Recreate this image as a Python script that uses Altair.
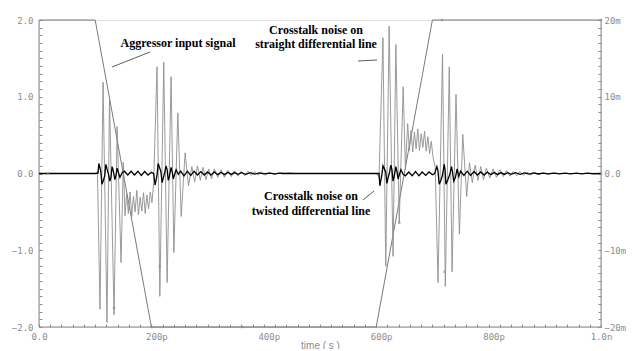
import altair as alt
import pandas as pd

# ---------------- data (time in ps) ----------------
agg_t = [0, 100, 200, 600, 700, 1000]
agg_v = [2.0, 2.0, -2.0, -2.0, 2.0, 2.0]

straight_t = [0, 100, 104, 108.5, 114, 121, 125.5, 133.5, 139, 146, 150,
              153, 156, 159, 162, 165, 168, 171, 174, 177, 180, 183, 186, 189, 192, 195, 198, 201, 204,
              210, 215, 222, 228, 235, 240, 247, 253, 260, 266, 272,
              277, 282, 287, 292, 297, 302, 307, 312, 318, 324, 330, 336, 342, 348, 354, 360, 366, 372,
              378, 384, 390, 396, 403, 410, 418, 426, 434, 444, 455, 600,
              605, 612, 617, 623, 630, 635, 641, 648, 652,
              656, 659, 662, 665, 668, 671, 674, 677, 680, 683, 686, 689, 692, 695, 698, 701, 705,
              710, 718, 723, 730, 735, 742, 748, 754, 761, 766,
              771, 776, 781, 786, 791, 796, 802, 808, 814, 820, 826, 832, 838, 844, 850, 856, 862, 868,
              875, 882, 890, 898, 906, 915, 925, 1000]
straight_mv = [0, 0, 0.3, -17.7, 11.9, -19.4, 10.0, -18.4, 6.1, -11.6, 1.5,
               -5.5, -2.6, -5.2, -2.4, -5.6, -3.0, -5.0, -2.2, -5.4, -3.1, -4.9, -2.5, -5.2, -2.8, -4.6, -2.4, -3.8, -1.2,
               13.9, -16.0, 14.5, -14.2, 12.6, -10.3, 7.9, -5.6, 2.7, -1.6, 0.9,
               -1.1, 1.0, -0.9, 0.8, -0.8, 0.6, -0.7, 0.6, -0.5, 0.5, -0.5, 0.4, -0.4, 0.35, -0.35, 0.3, -0.3, 0.3,
               -0.25, 0.25, -0.2, 0.2, -0.2, 0.15, -0.15, 0.1, -0.1, 0.1, 0, 0,
               -0.5, 17.7, -12.1, 19.2, -10.8, 16.8, -6.4, 11.3, 0.5,
               6.5, 3.0, 5.6, 2.8, 5.4, 3.2, 5.8, 3.0, 5.2, 3.4, 5.5, 2.9, 4.8, 2.6, 4.2, 2.2, 0.8,
               -14.2, 15.5, -14.7, 13.9, -12.8, 10.3, -7.9, 5.1, -3.0, 1.4,
               -1.2, 1.1, -0.9, 0.9, -0.8, 0.7, -0.6, 0.6, -0.5, 0.5, -0.4, 0.4, -0.35, 0.3, -0.3, 0.25, -0.25, 0.2,
               -0.2, 0.15, -0.15, 0.1, -0.1, 0.05, 0, 0]

twisted_t = [0, 100, 105, 106.5, 108, 110, 112, 114, 117, 119, 121, 124, 126, 128, 130, 132, 135, 137, 139, 141,
             144, 148, 152, 158, 164, 170, 176, 182, 188, 194, 200, 204,
             206.5, 208, 210, 212, 214, 217, 219, 221, 224, 226, 228, 230, 232, 235, 237, 239, 241, 244, 248,
             252, 258, 264, 270, 276, 282, 288, 294, 300, 306, 312, 318, 324, 330, 336, 342, 348, 354, 360,
             368, 376, 384, 392, 400, 410, 420, 430, 440, 600,
             605, 606.5, 608, 610, 612, 614, 617, 619, 621, 624, 626, 628, 630, 632, 635, 637, 639, 641, 644, 648,
             652, 658, 664, 670, 676, 682, 688, 694, 700, 704,
             708, 710, 712, 715, 718, 721, 722.5, 724, 727, 731, 734, 735.5, 738, 741, 744, 747, 750,
             756, 762, 768, 774, 780, 786, 792, 798, 804, 810, 816, 822, 828, 834, 840, 848, 856, 864, 872,
             880, 888, 896, 906, 916, 926, 936, 946, 956, 966, 976, 986, 1000]
twisted_mv = [0, 0, 0.05, 1.3, 0.9, 0.2, -1.4, -1.0, -0.3, 1.2, 0.6, -0.2, -1.0, -0.5, 0.9, 0.4, -0.8, -0.2, 0.7, 0.2,
              -0.5, 0.1, 0.3, -0.2, 0.3, -0.2, 0.3, -0.25, 0.25, -0.2, 0.15, 0,
              -1.5, -1.0, -0.2, 1.3, 0.9, 0.2, -1.2, -0.6, 0.2, 1.0, 0.5, -0.9, -0.4, 0.8, 0.2, -0.7, -0.2, 0.5, -0.1,
              0.3, -0.3, 0.3, -0.25, 0.3, -0.2, 0.25, -0.2, 0.2, -0.2, 0.2, -0.15, 0.15, -0.15, 0.15, -0.12, 0.12, -0.1, 0.1,
              -0.1, 0.1, -0.08, 0.08, -0.06, 0.06, -0.05, 0.05, 0, 0,
              0, -1.6, -1.0, -0.2, 1.0, 0.7, 0.2, -1.3, -0.6, 0.2, 1.1, 0.5, -1.0, -0.4, 0.9, 0.2, -0.7, -0.2, 0.5, -0.1,
              -0.3, 0.2, -0.3, 0.25, -0.3, 0.2, -0.25, 0.2, -0.15, 0,
              0.9, 0.3, -1.4, -0.9, -0.2, 1.2, 0.5, -1.4, -0.9, -0.1, 0.9, 0.3, -1.0, -0.5, 0.6, -0.4, 0.3,
              -0.25, 0.3, -0.25, 0.25, -0.2, 0.2, -0.2, 0.18, -0.15, 0.15, -0.15, 0.12, -0.12, 0.1, -0.1, 0.1, -0.1, 0.08, -0.08,
              0.08, -0.06, 0.06, -0.06, 0.05, -0.05, 0.05, -0.05, 0.04, -0.04, 0.04, -0.03, 0]

# waveform markers
agg_mark_t = [200, 362, 717, 1000]
agg_mark_v = [-2.0, -2.0, 2.0, 2.0]
xt_mark_t = [16, 133.5, 215, 641, 722, 1000]
xt_mark_mv = [0, -17.5, -12.1, -6.4, -12.8, 0]

# ---------------- styling ----------------
W, H = 562, 307
GRAY = "#8c8c8c"
MONO = "DejaVu Sans Mono"
SERIF = "Liberation Serif"

agg_df = pd.DataFrame({"t": agg_t, "v": agg_v})
agg_mk = pd.DataFrame({"t": agg_mark_t, "v": agg_mark_v})
xt_df = pd.concat([
    pd.DataFrame({"t": straight_t, "mv": straight_mv, "series": "straight"}),
    pd.DataFrame({"t": twisted_t, "mv": twisted_mv, "series": "twisted"}),
])
xt_mk = pd.DataFrame({"t": xt_mark_t, "mv": xt_mark_mv})

x_vals = list(range(0, 1001, 20))
x_lab = ("datum.value == 0 ? '0.0' : datum.value == 1000 ? '1.0n' : "
         "(datum.value % 200 == 0 ? datum.value + 'p' : '')")
xscale = alt.Scale(domain=[0, 1000], nice=False, zero=False)
xaxis = alt.Axis(values=x_vals, labelExpr=x_lab, title="time ( s )", offset=-3, tickSize=3,
                 domain=False, grid=False, labelFont=MONO, labelFontSize=9, labelColor=GRAY,
                 tickColor=GRAY, labelPadding=5, labelOverlap=False, labelFlush=False, labelBound=False,
                 labelOffset=alt.ExprRef(expr="datum.value > 0 && datum.value < 1000 ? 5 : 0"),
                 titleFont="Liberation Sans", titleFontSize=10, titleColor=GRAY,
                 titleFontWeight="normal", titlePadding=-1)
X = alt.X("t:Q", scale=xscale, axis=xaxis)

yl_vals = [round(-2 + 0.1 * i, 1) for i in range(41)]
yl_lab = "abs(datum.value - round(datum.value)) < 0.001 ? format(datum.value, '.1f') : ''"
yleft = alt.Y("v:Q", scale=alt.Scale(domain=[-2, 2], nice=False, zero=False),
              axis=alt.Axis(values=yl_vals, labelExpr=yl_lab, title=None, offset=-3, tickSize=3,
                            domain=False, grid=False, labelFont=MONO, labelFontSize=9, labelColor=GRAY,
                            tickColor=GRAY, labelPadding=6, labelOverlap=False, labelFlush=False,
                            labelBound=False))

yr_vals = list(range(-20, 21))
yr_lab = ("datum.value == 0 ? '0.0' : (datum.value % 10 == 0 ? format(datum.value, 'd') + 'm' : '')")
yright = alt.Y("mv:Q", scale=alt.Scale(domain=[-20, 20], nice=False, zero=False),
               axis=alt.Axis(orient="right", values=yr_vals, labelExpr=yr_lab, title=None, offset=-3,
                             tickSize=3, domain=False, grid=False, labelFont=MONO, labelFontSize=9,
                             labelColor=GRAY, tickColor=GRAY, labelPadding=3, labelOverlap=False,
                             labelFlush=False, labelBound=False))

agg_line = alt.Chart(agg_df).mark_line(color="#7a7a7a", strokeWidth=1).encode(x=X, y=yleft)
agg_pts = alt.Chart(agg_mk).mark_point(shape="square", size=6, filled=True, color=GRAY).encode(x=X, y=yleft)

frame = [
    alt.Chart().mark_rule(color=GRAY).encode(x=alt.value(0), y=alt.value(0), y2=alt.value(H)),
    alt.Chart().mark_rule(color=GRAY).encode(x=alt.value(0), x2=alt.value(W), y=alt.value(H)),
    alt.Chart().mark_rule(color=GRAY).encode(x=alt.value(W), y=alt.value(0), y2=alt.value(H)),
]

def label(text, px, py):
    return alt.Chart().mark_text(text=text, font=SERIF, fontSize=12, fontWeight="bold", color="black",
                                 align="center", baseline="middle").encode(x=alt.value(px), y=alt.value(py))

def leader(x1, y1, x2, y2):
    return alt.Chart().mark_rule(color="#333333", strokeWidth=0.8).encode(
        x=alt.value(x1), y=alt.value(y1), x2=alt.value(x2), y2=alt.value(y2))

notes = [
    label("Aggressor input signal", 139, 23),
    label("Crosstalk noise on", 277, 10),
    label("straight differential line", 277, 24),
    label("Crosstalk noise on", 272, 176),
    label("twisted differential line", 272, 191),
    leader(73, 47, 111, 32),
    leader(319, 41, 338, 40),
    leader(324, 180, 335, 171),
]

left = alt.layer(agg_line, agg_pts, *frame, *notes)

xt_line = alt.Chart(xt_df).mark_line(interpolate="linear").encode(
    x=X, y=yright,
    color=alt.Color("series:N", scale=alt.Scale(domain=["straight", "twisted"], range=["#8f8f8f", "#000000"]), legend=None),
    strokeWidth=alt.StrokeWidth("series:N", scale=alt.Scale(domain=["straight", "twisted"], range=[0.9, 1.3]), legend=None),
)
xt_pts = alt.Chart(xt_mk).mark_point(shape="square", size=6, filled=True, color=GRAY).encode(x=X, y=yright)
right = alt.layer(xt_line, xt_pts)

chart = alt.layer(left, right).resolve_scale(y="independent").properties(
    width=W, height=H,
    autosize=alt.AutoSizeParams(type="none"),
    padding={"left": 31, "top": 12, "right": 25, "bottom": 22},
).configure_view(stroke=None).configure(background="white")

chart.save("out.html", embed_options={"renderer": "svg", "actions": False})
